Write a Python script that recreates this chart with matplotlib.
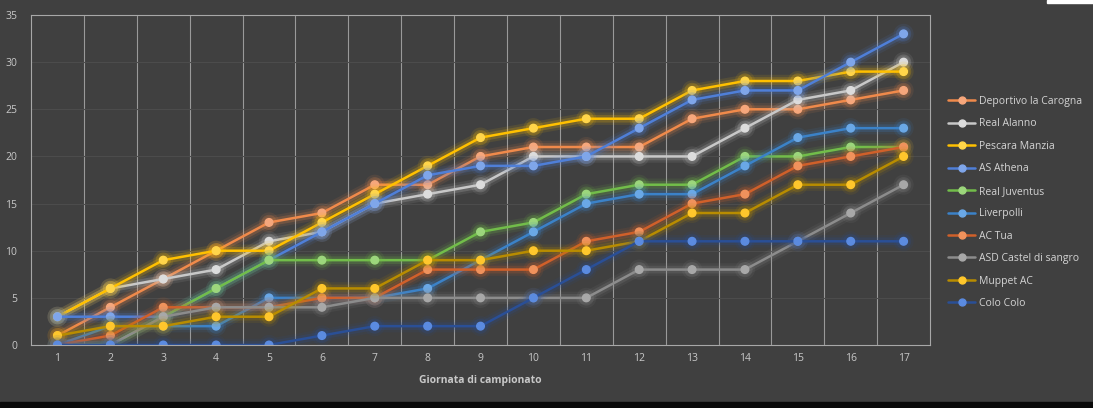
import matplotlib
matplotlib.use("Agg")
import matplotlib.pyplot as plt
import matplotlib.patheffects as pe
from matplotlib.patches import Rectangle

plt.rcParams['font.family'] = ['Open Sans', 'DejaVu Sans']

giornate = list(range(1, 18))

squadre = ['Deportivo la Carogna', 'Real Alanno', 'Pescara Manzia', 'AS Athena',
           'Real Juventus', 'Liverpolli', 'AC Tua', 'ASD Castel di sangro',
           'Muppet AC', 'Colo Colo']

deportivo = [1, 4, 7, 10, 13, 14, 17, 17, 20, 21, 21, 21, 24, 25, 25, 26, 27]
alanno = [3, 6, 7, 8, 11, 12, 15, 16, 17, 20, 20, 20, 20, 23, 26, 27, 30]
pescara = [3, 6, 9, 10, 10, 13, 16, 19, 22, 23, 24, 24, 27, 28, 28, 29, 29]
athena = [3, 3, 3, 6, 9, 12, 15, 18, 19, 19, 20, 23, 26, 27, 27, 30, 33]
juventus = [0, 0, 3, 6, 9, 9, 9, 9, 12, 13, 16, 17, 17, 20, 20, 21, 21]
liverpolli = [0, 2, 2, 2, 5, 5, 5, 6, 9, 12, 15, 16, 16, 19, 22, 23, 23]
actua = [0, 1, 4, 4, 4, 5, 5, 8, 8, 8, 11, 12, 15, 16, 19, 20, 21]
castel = [0, 0, 3, 4, 4, 4, 5, 5, 5, 5, 5, 8, 8, 8, 11, 14, 17]
muppet = [1, 2, 2, 3, 3, 6, 6, 9, 9, 10, 10, 11, 14, 14, 17, 17, 20]
colocolo = [0, 0, 0, 0, 0, 1, 2, 2, 2, 5, 8, 11, 11, 11, 11, 11, 11]

punti = [deportivo, alanno, pescara, athena, juventus, liverpolli, actua,
         castel, muppet, colocolo]

# colore linea, colore marker
colori = [('#f08a4b', '#f6a77c'), ('#c8c8c8', '#dcdcdc'), ('#ffc000', '#ffd54a'),
          ('#4f7fd8', '#7fa6ea'), ('#72bd4a', '#9cd67c'), ('#3b82c8', '#6aa8e6'),
          ('#d0602a', '#f0925c'), ('#8c8c8c', '#a8a8a8'), ('#b88c00', '#ffc72c'),
          ('#2a4f96', '#5b8be0')]

bg = '#404040'
fig = plt.figure(figsize=(10.93, 4.08), dpi=100, facecolor=bg)
ax = fig.add_axes([0.0284, 0.1544, 0.8225, 0.8088])
ax.set_facecolor(bg)

for nome, y, (cl, cm) in zip(squadre, punti, colori):
    ax.plot(giornate, y, color=cl, lw=1.8, marker='o', ms=5.5,
            mfc=cm, mec=cm, label=nome, solid_capstyle='round',
            path_effects=[pe.Stroke(linewidth=9, foreground=cl, alpha=0.10),
                          pe.Stroke(linewidth=5.5, foreground=cl, alpha=0.20),
                          pe.Normal()])

ax.set_xlim(0.5, 17.5)
ax.set_ylim(0, 35)
ax.set_xticks(giornate)
ax.set_yticks(range(0, 36, 5))
ax.set_xticks([i + 0.5 for i in range(1, 17)], minor=True)
ax.tick_params(axis='both', which='both', length=0, colors='#c8c8c8', labelsize=7.5)
ax.tick_params(axis='x', pad=6)
ax.tick_params(axis='y', pad=10)
ax.grid(True, axis='x', which='minor', color='#9a9a9a', lw=0.8)
ax.grid(True, axis='y', which='major', color='#4c4c4c', lw=0.8)
ax.set_axisbelow(True)
for s in ax.spines.values():
    s.set_color('#a8a8a8')
    s.set_linewidth(0.8)

ax.set_xlabel('Giornata di campionato', color='#c8c8c8', fontsize=7.5,
              fontweight='bold', labelpad=8)

leg = ax.legend(loc='center left', bbox_to_anchor=(1.01, 0.432), frameon=False,
                fontsize=7.5, labelcolor='#d4d4d4', handlelength=2.6,
                handletextpad=0.3, labelspacing=1.1)
for ln in leg.get_lines():
    ln.set_path_effects([])
    ln.set_markersize(5)
    ln.set_linewidth(1.8)

fig.patches.append(Rectangle((0, 0), 1, 6 / 408, transform=fig.transFigure,
                             color='#0a0a0a', zorder=10))
fig.patches.append(Rectangle((1047 / 1093, 1 - 3 / 408), 46 / 1093, 3 / 408,
                             transform=fig.transFigure, color='white', zorder=10))

fig.savefig('out.png', dpi=100, facecolor=bg)
